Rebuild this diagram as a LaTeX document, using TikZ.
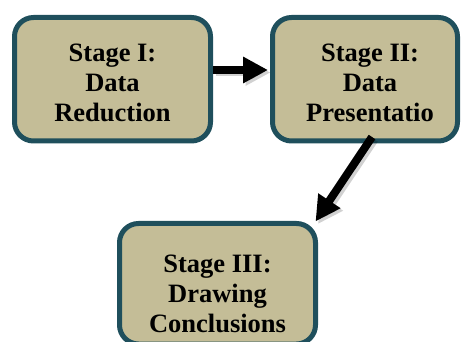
\documentclass[tikz,border=0pt]{standalone}
\usepackage{fontspec}
\setmainfont{Liberation Serif}
\usetikzlibrary{arrows.meta}
\definecolor{boxfill}{HTML}{C4BD97}
\definecolor{boxline}{HTML}{1F4F5C}
\tikzset{
  stagebox/.style={draw=boxline, fill=boxfill, line width=5pt, rounded corners=19pt, inner sep=0pt},
  stagetext/.style={align=center, font=\bfseries\fontsize{26.5}{30}\selectfont, inner sep=0pt},
  flow/.style={line width=8pt, -{Triangle[length=25pt,width=25pt]}},
  flowshadow/.style={line width=8pt, draw=black, opacity=0.18, -{Triangle[length=25pt,width=25pt]}}
}
\begin{document}
\begin{tikzpicture}[x=1pt,y=-1pt]
\useasboundingbox (0,0) rectangle (461,342);
\begin{scope}
\clip (0,0) rectangle (461,342);
\node[stagebox, minimum width=196pt, minimum height=123.5pt] (s1) at (112.5,79.25) {};
\node[stagebox, minimum width=185pt, minimum height=123.5pt] (s2) at (365,79.25) {};
\node[stagebox, minimum width=196pt, minimum height=120.5pt] (s3) at (217.5,283.75) {};
\end{scope}
\node[stagetext] (t1) at (112.5,82.5) {Stage I:\\Data\\Reduction};
\node[stagetext] (t2) at (370,82.5) {Stage II:\\Data\\Presentatio};
\node[stagetext] (t3) at (217.5,293.5) {Stage III:\\Drawing\\Conclusions};
\coordinate (a1s) at (s1.east |- 0,70);
\coordinate (a1e) at (268,70);
\coordinate (a2s) at (372,137);
\coordinate (a2e) at (315.5,221.5);
\draw[flowshadow, transform canvas={shift={(2.5pt,-2.5pt)}}] (a1s) -- (a1e);
\draw[flowshadow, transform canvas={shift={(2.5pt,-2.5pt)}}] (a2s) -- (a2e);
\draw[flow] (a1s) -- (a1e);
\draw[flow] (a2s) -- (a2e);
\end{tikzpicture}
\end{document}
